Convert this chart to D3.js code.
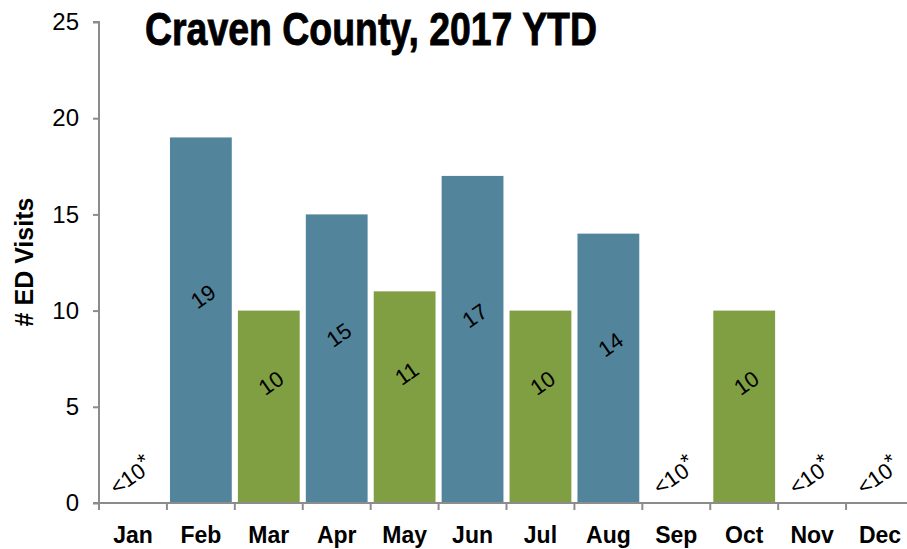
<!doctype html>
<html lang="en">
<head>
<meta charset="utf-8">
<title>Craven County, 2017 YTD</title>
<script src="https://cdn.jsdelivr.net/npm/d3@7"></script>
<style>
  body { margin: 0; background: #fff; }
  svg { display: block; font-family: "Liberation Sans", Arial, sans-serif; }
</style>
</head>
<body>
<div id="chart"></div>
<script>

// chart data
var months = ["Jan", "Feb", "Mar", "Apr", "May", "Jun", "Jul", "Aug", "Sep", "Oct", "Nov", "Dec"];
var visits = [0, 19, 10, 15, 11, 17, 10, 14, 0, 10, 0, 0];
var labels = ["<10", "19", "10", "15", "11", "17", "10", "14", "<10", "10", "<10", "<10"];
var suppressed = [true, false, false, false, false, false, false, false, true, false, true, true];
var yTicks = [0, 5, 10, 15, 20, 25];

var width = 907;
var height = 549;

// shown bars alternate blue / green
var palette = ["#52849c", "#809e42"];
var axisGrey = "#8c8c8c";

var barColor = [];
var shown = 0;
for (var i = 0; i < months.length; i++) {
    barColor.push(palette[shown % 2]);
    if (!suppressed[i]) shown++;
}

var svg = d3.select("#chart").append("svg")
    .attr("width", width)
    .attr("height", height);

var x = d3.scaleBand()
    .domain(months)
    .range([99, 914])
    .paddingInner(0.09)
    .paddingOuter(0.045);

var y = d3.scaleLinear()
    .domain([0, 25])
    .range([503, 22]);

// bars
svg.selectAll("rect.bar")
    .data(months)
    .enter()
    .append("rect")
    .attr("class", "bar")
    .attr("x", function(d) { return x(d); })
    .attr("width", x.bandwidth())
    .attr("y", function(d, i) { return y(visits[i]); })
    .attr("height", function(d, i) { return y(0) - y(visits[i]); })
    .attr("fill", function(d, i) { return barColor[i]; });

// y axis
var yAxis = d3.axisLeft(y)
    .tickValues(yTicks)
    .tickSize(6)
    .tickPadding(14);

var gy = svg.append("g")
    .attr("transform", "translate(99,0)")
    .call(yAxis);
gy.select(".domain").attr("stroke", axisGrey).attr("stroke-width", 2)
    .attr("d", "M-6," + y(25) + "H0V" + y(0));
gy.selectAll(".tick line").attr("stroke", axisGrey).attr("stroke-width", 2);
gy.selectAll(".tick text")
    .attr("font-size", 24)
    .attr("fill", "#000")
    .attr("font-family", "'Liberation Sans', Arial, sans-serif");

// x axis: line plus ticks at the band edges
var gx = svg.append("g").attr("class", "xaxis");
gx.append("line")
    .attr("x1", 93).attr("x2", width)
    .attr("y1", y(0)).attr("y2", y(0))
    .attr("stroke", axisGrey).attr("stroke-width", 2);

var step = x.step();
gx.selectAll("line.xtick")
    .data(months)
    .enter()
    .append("line")
    .attr("class", "xtick")
    .attr("x1", function(d) { return x(d) - step * x.paddingInner() / 2; })
    .attr("x2", function(d) { return x(d) - step * x.paddingInner() / 2; })
    .attr("y1", y(0))
    .attr("y2", y(0) + 7)
    .attr("stroke", axisGrey).attr("stroke-width", 2);

gx.selectAll("text.month")
    .data(months)
    .enter()
    .append("text")
    .attr("class", "month")
    .attr("x", function(d) { return x(d) + x.bandwidth() / 2; })
    .attr("y", 543)
    .attr("text-anchor", "middle")
    .attr("font-size", 23)
    .attr("font-weight", "bold")
    .text(function(d) { return d; });

// value labels, tilted
var lab = svg.selectAll("text.val")
    .data(months)
    .enter()
    .append("text")
    .attr("class", "val")
    .attr("text-anchor", "middle")
    .attr("dominant-baseline", "central")
    .attr("font-size", 22)
    .attr("fill", "#000")
    .attr("transform", function(d, i) {
        var cx = x(d) + x.bandwidth() / 2;
        var cy;
        if (suppressed[i]) {
            cx = cx - 2;
            cy = y(0) - 27;
        } else {
            cx = cx + 2;
            cy = y(visits[i] / 2) - 24;
        }
        return "translate(" + cx + "," + cy + ") rotate(-35)";
    });

lab.append("tspan")
    .text(function(d, i) { return labels[i]; });
lab.filter(function(d, i) { return suppressed[i]; })
    .append("tspan")
    .attr("dy", -6)
    .attr("font-size", 22)
    .text("*");

// y axis title
svg.append("text")
    .attr("transform", "translate(33,262) rotate(-90)")
    .attr("text-anchor", "middle")
    .attr("font-size", 25)
    .attr("font-weight", "bold")
    .text("# ED Visits");

// chart title
svg.append("text")
    .attr("x", 145)
    .attr("y", 45)
    .attr("font-family", "'Liberation Sans', Arial, sans-serif")
    .attr("font-weight", "bold")
    .attr("font-size", 47)
    .attr("stroke", "#000")
    .attr("stroke-width", 0.9)
    .attr("textLength", 452)
    .attr("lengthAdjust", "spacingAndGlyphs")
    .text("Craven County, 2017 YTD");

</script>
</body>
</html>
